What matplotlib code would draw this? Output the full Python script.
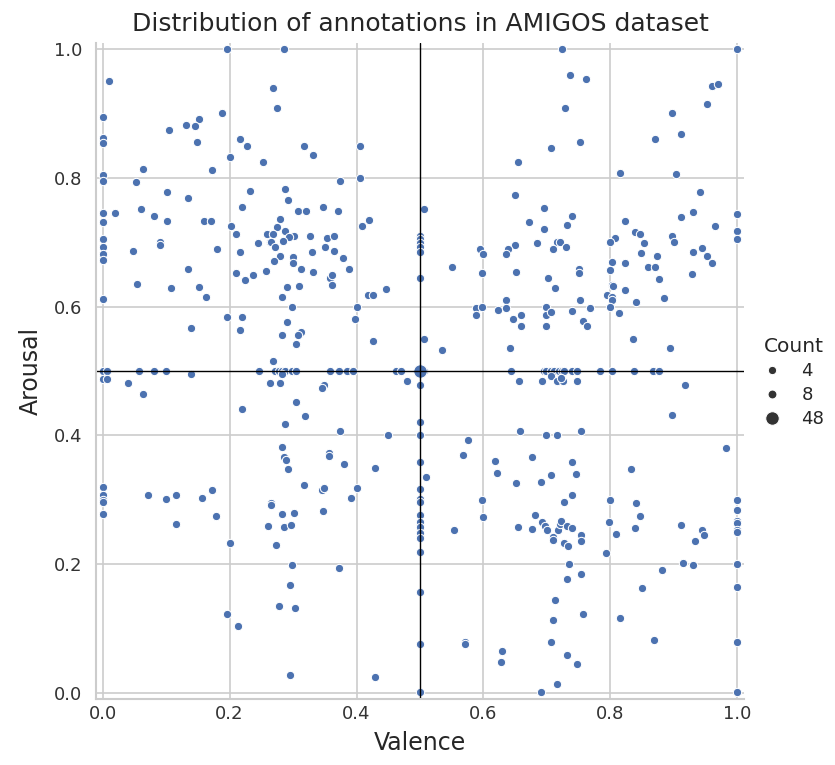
import matplotlib
matplotlib.use("Agg")
import matplotlib.pyplot as plt
from matplotlib.lines import Line2D
import numpy as np
import seaborn as sns

# (valence, arousal) annotations
top_left = [
    (0.196, 1.0), (0.285, 1.0), (0.010, 0.95), (0.269, 0.94), (0.275, 0.908),
    (0.0, 0.895), (0.188, 0.90), (0.152, 0.891), (0.131, 0.882), (0.146, 0.881),
    (0.105, 0.874), (0.0, 0.862), (0.0, 0.854), (0.148, 0.855), (0.217, 0.860),
    (0.227, 0.850), (0.200, 0.833), (0.252, 0.824), (0.318, 0.850), (0.331, 0.836),
    (0.063, 0.814), (0.173, 0.812), (0.0, 0.804), (0.0, 0.795), (0.053, 0.793),
    (0.101, 0.778), (0.135, 0.768), (0.232, 0.780), (0.288, 0.782), (0.292, 0.765),
    (0.220, 0.754), (0.019, 0.746), (0.0, 0.746), (0.0, 0.732), (0.061, 0.751),
    (0.081, 0.741), (0.101, 0.733), (0.159, 0.733), (0.170, 0.733), (0.308, 0.748),
    (0.320, 0.749), (0.280, 0.736), (0.202, 0.725), (0.275, 0.724), (0.210, 0.713),
    (0.259, 0.712), (0.269, 0.712), (0.288, 0.717), (0.302, 0.710), (0.293, 0.708),
    (0.327, 0.709), (0.245, 0.698), (0.263, 0.700), (0.266, 0.700), (0.284, 0.702),
    (0.272, 0.692), (0.0, 0.705), (0.0, 0.693), (0.0, 0.682), (0.0, 0.672),
    (0.091, 0.700), (0.091, 0.695), (0.047, 0.686), (0.180, 0.689), (0.216, 0.685),
    (0.279, 0.679), (0.270, 0.671), (0.300, 0.677), (0.300, 0.668), (0.330, 0.684),
]
top_mid = [
    (0.405, 0.850), (0.406, 0.800), (0.374, 0.795), (0.347, 0.754), (0.371, 0.748),
    (0.419, 0.734), (0.409, 0.725), (0.354, 0.706), (0.365, 0.709), (0.351, 0.693),
    (0.364, 0.686), (0.378, 0.675), (0.507, 0.751), (0.5, 0.710), (0.5, 0.705),
    (0.5, 0.699), (0.5, 0.692), (0.5, 0.685), (0.655, 0.824), (0.649, 0.773),
    (0.672, 0.732), (0.650, 0.696), (0.639, 0.689), (0.635, 0.681), (0.595, 0.689),
    (0.599, 0.682),
]
top_right = [
    (0.724, 1.0), (1.0, 1.0), (0.737, 0.959), (0.761, 0.953), (0.728, 0.909),
    (0.706, 0.847), (0.752, 0.855), (0.961, 0.943), (0.969, 0.946), (0.952, 0.915),
    (0.897, 0.900), (0.911, 0.868), (0.870, 0.860), (0.816, 0.807), (0.903, 0.806),
    (0.941, 0.778), (0.695, 0.753), (0.740, 0.741), (0.696, 0.721), (0.732, 0.727),
    (0.684, 0.698), (0.716, 0.700), (0.720, 0.700), (0.709, 0.689), (0.730, 0.693),
    (0.823, 0.733), (0.808, 0.706), (0.799, 0.700), (0.839, 0.716), (0.847, 0.712),
    (0.853, 0.698), (0.849, 0.683), (0.873, 0.678), (0.802, 0.669), (0.823, 0.668),
    (0.897, 0.709), (0.900, 0.700), (0.911, 0.739), (0.931, 0.747), (0.965, 0.725),
    (1.0, 0.744), (1.0, 0.718), (1.0, 0.705), (0.931, 0.685), (0.945, 0.691),
    (0.952, 0.679), (0.961, 0.668),
]
mid_left = [
    (0.135, 0.659), (0.054, 0.635), (0.108, 0.628), (0.151, 0.631), (0.163, 0.615),
    (0.0, 0.611), (0.210, 0.652), (0.224, 0.641), (0.237, 0.649), (0.258, 0.655),
    (0.312, 0.659), (0.332, 0.654), (0.290, 0.631), (0.309, 0.632), (0.282, 0.615),
    (0.298, 0.600), (0.196, 0.583), (0.219, 0.583), (0.216, 0.563), (0.290, 0.576),
    (0.282, 0.556), (0.312, 0.560), (0.308, 0.556), (0.305, 0.542), (0.139, 0.566),
    (0.268, 0.516), (0.0, 0.5), (0.006, 0.5), (0.057, 0.5), (0.081, 0.5),
    (0.099, 0.5), (0.247, 0.5), (0.271, 0.5), (0.278, 0.5), (0.282, 0.5),
    (0.288, 0.5), (0.299, 0.5), (0.305, 0.5), (0.0, 0.488), (0.006, 0.488),
    (0.139, 0.495), (0.282, 0.495), (0.040, 0.481), (0.063, 0.464), (0.263, 0.481),
    (0.279, 0.481), (0.220, 0.440), (0.305, 0.451), (0.319, 0.430), (0.288, 0.417),
    (0.282, 0.382), (0.286, 0.366), (0.289, 0.361), (0.292, 0.348),
]
mid_mid = [
    (0.388, 0.659), (0.359, 0.645), (0.361, 0.649), (0.362, 0.634), (0.446, 0.627),
    (0.418, 0.618), (0.426, 0.618), (0.4, 0.6), (0.398, 0.580), (0.426, 0.546),
    (0.5, 0.644), (0.551, 0.661), (0.507, 0.549), (0.534, 0.533), (0.598, 0.652),
    (0.652, 0.654), (0.588, 0.598), (0.598, 0.6), (0.588, 0.587), (0.623, 0.594),
    (0.635, 0.610), (0.635, 0.597), (0.646, 0.580), (0.660, 0.587), (0.659, 0.570),
    (0.642, 0.536), (0.358, 0.5), (0.372, 0.5), (0.385, 0.5), (0.395, 0.5),
    (0.463, 0.5), (0.470, 0.5), (0.507, 0.5), (0.643, 0.5), (0.656, 0.485),
    (0.480, 0.485), (0.5, 0.478), (0.348, 0.478), (0.346, 0.474), (0.5, 0.420),
    (0.374, 0.406), (0.449, 0.400), (0.5, 0.400), (0.657, 0.406), (0.575, 0.392),
    (0.568, 0.369), (0.357, 0.372), (0.357, 0.367), (0.381, 0.355), (0.429, 0.349),
    (0.5, 0.359), (0.510, 0.335), (0.618, 0.360), (0.622, 0.341), (0.652, 0.326),
    (0.677, 0.366),
]
mid_right = [
    (0.860, 0.662), (0.870, 0.662), (0.928, 0.651), (0.877, 0.642), (0.750, 0.659),
    (0.750, 0.652), (0.8, 0.657), (0.702, 0.645), (0.713, 0.628), (0.803, 0.634),
    (0.805, 0.632), (0.795, 0.618), (0.803, 0.614), (0.803, 0.610), (0.823, 0.625),
    (0.884, 0.613), (0.840, 0.607), (0.752, 0.610), (0.699, 0.600), (0.699, 0.587),
    (0.706, 0.591), (0.699, 0.570), (0.739, 0.593), (0.768, 0.597), (0.799, 0.6),
    (0.813, 0.590), (0.757, 0.577), (0.764, 0.570), (0.836, 0.550), (0.894, 0.536),
    (0.695, 0.5), (0.699, 0.5), (0.706, 0.5), (0.712, 0.5), (0.719, 0.5),
    (0.724, 0.5), (0.727, 0.5), (0.739, 0.5), (0.748, 0.5), (0.783, 0.5),
    (0.803, 0.5), (0.837, 0.5), (0.867, 0.5), (0.876, 0.5), (0.693, 0.485),
    (0.706, 0.492), (0.716, 0.485), (0.725, 0.485), (0.723, 0.489), (0.748, 0.485),
    (0.917, 0.478), (0.897, 0.431), (0.699, 0.4), (0.716, 0.4), (0.754, 0.406),
    (0.982, 0.380), (0.740, 0.359), (0.832, 0.348), (0.706, 0.338), (0.746, 0.339),
    (0.690, 0.327),
]
low_left = [
    (0.0, 0.320), (0.0, 0.307), (0.0, 0.300), (0.0, 0.296), (0.0, 0.277),
    (0.071, 0.307), (0.100, 0.301), (0.115, 0.307), (0.156, 0.303), (0.172, 0.315),
    (0.179, 0.274), (0.115, 0.262), (0.200, 0.232), (0.266, 0.294), (0.266, 0.291),
    (0.283, 0.277), (0.302, 0.279), (0.261, 0.259), (0.286, 0.257), (0.297, 0.260),
    (0.273, 0.230), (0.317, 0.322), (0.298, 0.199), (0.295, 0.167), (0.278, 0.134),
    (0.303, 0.132), (0.196, 0.123), (0.214, 0.103), (0.295, 0.028),
]
low_mid = [
    (0.346, 0.315), (0.349, 0.318), (0.4, 0.318), (0.392, 0.302), (0.347, 0.282),
    (0.372, 0.193), (0.429, 0.024), (0.5, 0.317), (0.5, 0.301), (0.5, 0.296),
    (0.5, 0.276), (0.5, 0.265), (0.5, 0.258), (0.5, 0.248), (0.5, 0.241),
    (0.5, 0.218), (0.5, 0.157), (0.5, 0.075), (0.5, 0.001), (0.554, 0.252),
    (0.598, 0.299), (0.599, 0.273), (0.655, 0.257), (0.676, 0.255), (0.571, 0.079),
    (0.571, 0.075), (0.629, 0.065), (0.628, 0.048),
]
low_right = [
    (0.740, 0.307), (0.727, 0.296), (0.682, 0.276), (0.693, 0.265), (0.697, 0.259),
    (0.700, 0.252), (0.709, 0.242), (0.709, 0.238), (0.717, 0.252), (0.720, 0.262),
    (0.723, 0.266), (0.731, 0.259), (0.740, 0.256), (0.754, 0.245), (0.754, 0.235),
    (0.727, 0.232), (0.734, 0.228), (0.735, 0.200), (0.732, 0.176), (0.754, 0.185),
    (0.713, 0.144), (0.710, 0.113), (0.757, 0.123), (0.706, 0.079), (0.732, 0.058),
    (0.747, 0.045), (0.716, 0.014), (0.690, 0.001), (0.8, 0.299), (0.798, 0.265),
    (0.809, 0.247), (0.793, 0.217), (0.840, 0.294), (0.847, 0.274), (0.839, 0.256),
    (0.911, 0.261), (0.944, 0.253), (0.948, 0.245), (0.934, 0.235), (0.914, 0.201),
    (0.930, 0.198), (0.881, 0.190), (0.850, 0.163), (0.815, 0.116), (0.869, 0.082),
    (1.0, 0.299), (1.0, 0.284), (1.0, 0.267), (1.0, 0.263), (1.0, 0.253),
    (1.0, 0.249), (1.0, 0.200), (1.0, 0.164), (1.0, 0.078), (1.0, 0.001),
]

# the neutral point (0.5, 0.5) holds by far the most annotations
centre = (0.5, 0.5)
centre_count = 48
base_count = 4
legend_counts = [4, 8, 48]
ticks = [0.0, 0.2, 0.4, 0.6, 0.8, 1.0]

blue = "#4c72b0"


def marker_area(count):
    # linear size mapping like seaborn's size semantic
    return 36 + (count - 4) * (95 - 36) / 44


sns.set_style("whitegrid")
plt.rcParams["font.family"] = ["DejaVu Sans"]

points = np.array(top_left + top_mid + top_right + mid_left + mid_mid
                  + mid_right + low_left + low_mid + low_right)

fig = plt.figure(figsize=(8.35, 7.65), dpi=100)
ax = fig.add_axes([0.1154, 0.0861, 0.7751, 0.8582])

ax.scatter(points[:, 0], points[:, 1], s=marker_area(base_count), color=blue,
           edgecolors="white", linewidths=0.75)
ax.scatter([centre[0]], [centre[1]], s=marker_area(centre_count), color=blue,
           edgecolors="white", linewidths=0.75)

ax.axhline(0.5, color="black", lw=1)
ax.axvline(0.5, color="black", lw=1)

ax.set_xlim(-0.01, 1.01)
ax.set_ylim(-0.01, 1.01)
ax.set_xticks(ticks)
ax.set_yticks(ticks)
ax.set_xticklabels(["%.1f" % t for t in ticks])
ax.set_yticklabels(["%.1f" % t for t in ticks])
ax.tick_params(axis="both", length=0, labelsize=13, colors="#333333")
ax.tick_params(axis="y", pad=10)
ax.tick_params(axis="x", pad=4)
ax.grid(True, color="#cccccc", lw=1.2)
ax.set_axisbelow(True)
for side in ["top", "right"]:
    ax.spines[side].set_visible(False)
for side in ["left", "bottom"]:
    ax.spines[side].set_color("#cccccc")
    ax.spines[side].set_linewidth(1.5)

ax.set_xlabel("Valence", fontsize=17, color="#262626", labelpad=6)
ax.set_ylabel("Arousal", fontsize=17, color="#262626", labelpad=8)
ax.set_title("Distribution of annotations in AMIGOS dataset", fontsize=18,
             color="#262626", pad=8)

handles = [Line2D([], [], ls="", marker="o", color="#333333",
                  markeredgecolor="white", markeredgewidth=0.75,
                  markersize=np.sqrt(marker_area(c))) for c in legend_counts]
fig.legend(handles, [str(c) for c in legend_counts], title="Count",
           loc="center left", bbox_to_anchor=(0.91, 0.5), frameon=False,
           fontsize=13, title_fontsize=14.5, handlelength=1.0,
           handletextpad=1.1, borderpad=0.2, borderaxespad=0.0,
           labelspacing=0.35)

fig.savefig("out.png", dpi=100)
